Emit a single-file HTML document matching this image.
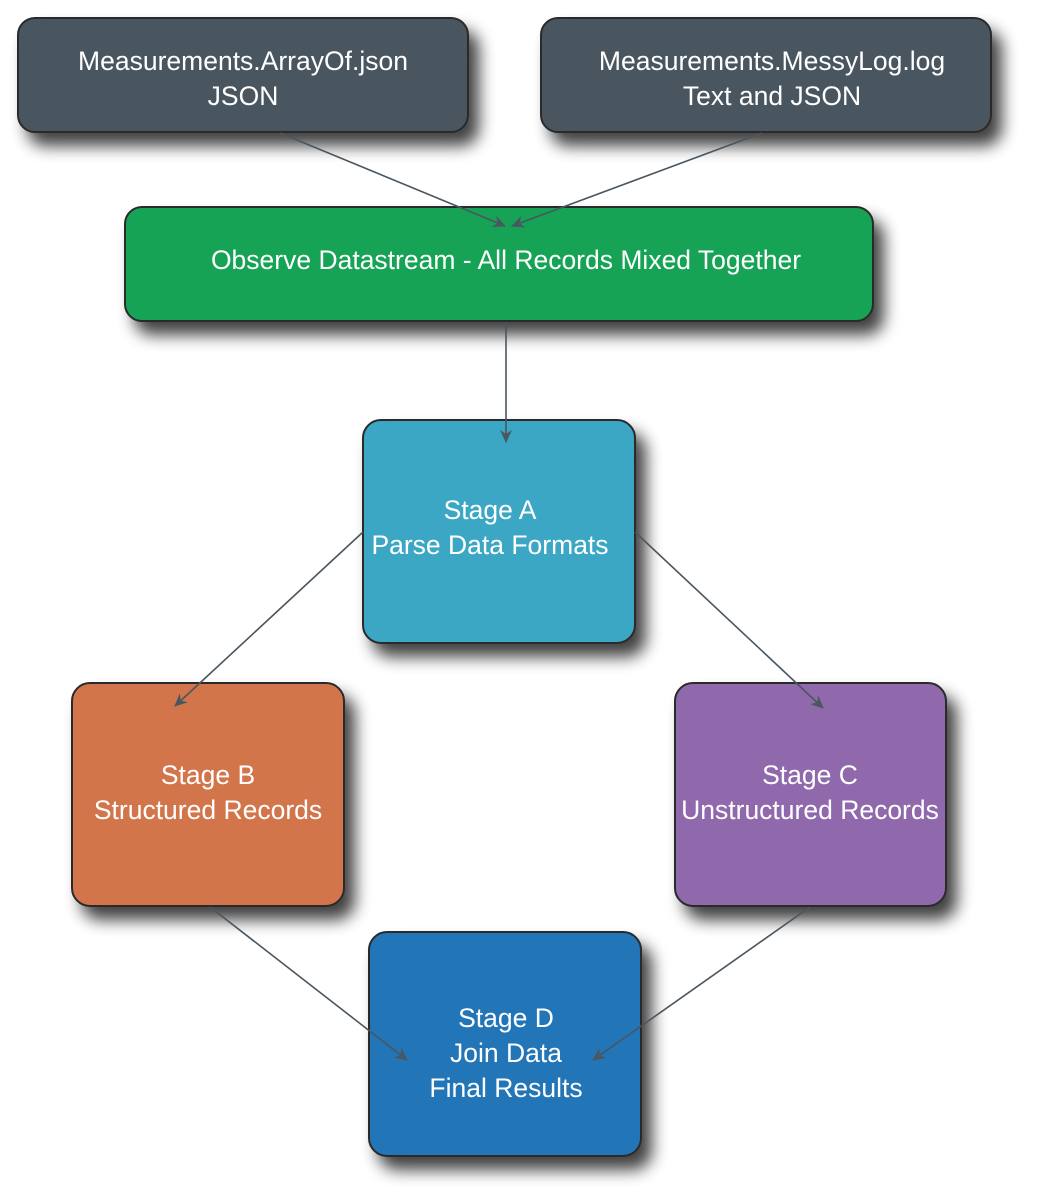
<!DOCTYPE html>
<html><head><meta charset="utf-8"><style>
html,body{margin:0;padding:0;background:#fff;}
svg{display:block;}
text{font-family:"Liberation Sans",sans-serif;font-size:26.5px;fill:#fff;text-anchor:middle;}
</style></head><body>
<svg width="1039" height="1204" viewBox="0 0 1039 1204" xmlns="http://www.w3.org/2000/svg">
<defs>
<filter id="sh" x="-20%" y="-20%" width="150%" height="160%">
<feGaussianBlur in="SourceAlpha" stdDeviation="8"/>
<feOffset dx="10" dy="13" result="b"/>
<feComponentTransfer><feFuncA type="linear" slope="0.75"/></feComponentTransfer>
<feMerge><feMergeNode/><feMergeNode in="SourceGraphic"/></feMerge>
</filter>
<marker id="ar" markerWidth="14" markerHeight="12" refX="12" refY="6" orient="auto" markerUnits="userSpaceOnUse">
<path d="M0,0 L13,6 L0,12 L4,6 Z" fill="#4a5660"/>
</marker>
</defs>
<g stroke="#2a2a2a" stroke-width="2" filter="url(#sh)">
<rect x="18" y="18" width="450" height="114" rx="17" fill="#4a5660"/>
<rect x="541" y="18" width="450" height="114" rx="17" fill="#4a5660"/>
<rect x="125" y="207" width="748" height="114" rx="17" fill="#13a356"/>
<rect x="363" y="420" width="272" height="223" rx="18" fill="#3aa7c5"/>
<rect x="72" y="683" width="272" height="223" rx="18" fill="#d3744c"/>
<rect x="675" y="683" width="271" height="223" rx="18" fill="#9069ac"/>
<rect x="369" y="932" width="272" height="224" rx="18" fill="#2374b7"/>
</g>
<text x="243" y="70">Measurements.ArrayOf.json</text>
<text x="243" y="105">JSON</text>
<text x="772" y="70">Measurements.MessyLog.log</text>
<text x="772" y="105">Text and JSON</text>
<text x="506" y="269">Observe Datastream - All Records Mixed Together</text>
<text x="490" y="519">Stage A</text>
<text x="490" y="554">Parse Data Formats</text>
<text x="208" y="784">Stage B</text>
<text x="208" y="819">Structured Records</text>
<text x="810" y="784">Stage C</text>
<text x="810" y="819">Unstructured Records</text>
<text x="506" y="1027">Stage D</text>
<text x="506" y="1062">Join Data</text>
<text x="506" y="1097">Final Results</text>
<g stroke="#4a5660" stroke-width="1.6" fill="none" marker-end="url(#ar)">
<line x1="280" y1="133" x2="505" y2="226"/>
<line x1="762" y1="133" x2="512" y2="226"/>
<line x1="506" y1="322" x2="506" y2="442"/>
<line x1="363" y1="532" x2="175" y2="706"/>
<line x1="635" y1="532" x2="823" y2="708"/>
<line x1="210" y1="907" x2="407" y2="1060"/>
<line x1="810" y1="907" x2="593" y2="1060"/>
</g>
</svg>
</body></html>
